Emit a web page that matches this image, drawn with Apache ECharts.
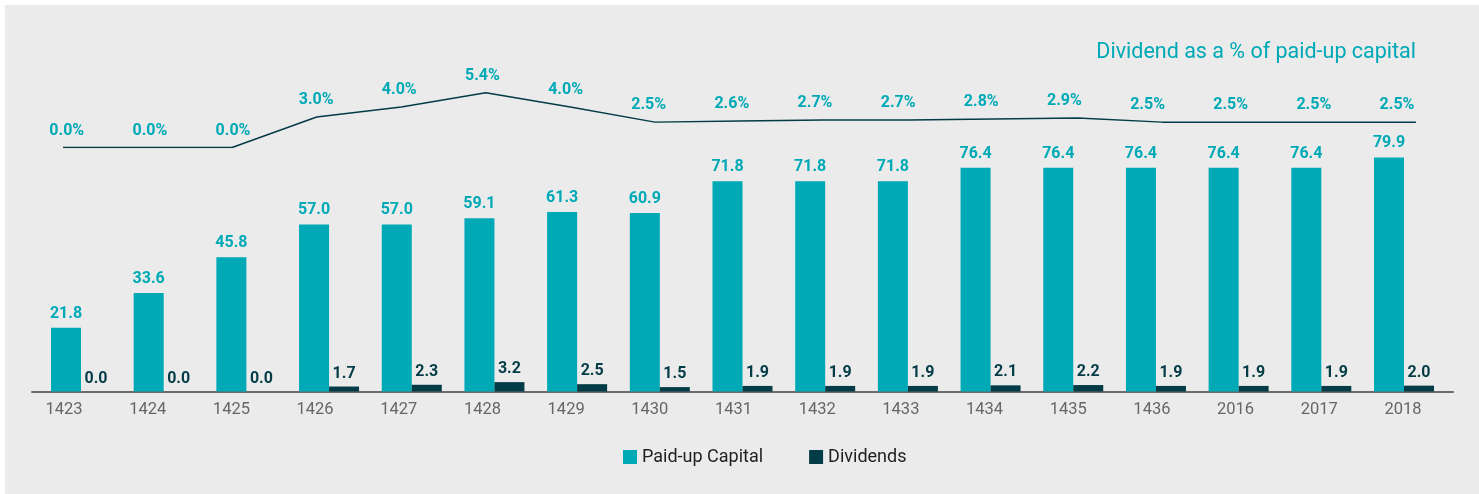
<!DOCTYPE html>
<html>
<head>
<meta charset="utf-8">
<script src="https://cdn.jsdelivr.net/npm/echarts@6/dist/echarts.min.js"></script>
<style>
  html, body { margin: 0; padding: 0; background: #ffffff; }
  #panel { position: absolute; left: 5px; top: 5px; width: 1474px; height: 489px; background: #ebebeb; }
  #chart { position: absolute; left: 0; top: 0; width: 1479px; height: 494px; }
</style>
</head>
<body>
<div id="panel"></div>
<div id="chart"></div>
<script>
// Paid-up capital and dividends by year, with dividend as a % of paid-up capital
const years = ['1423', '1424', '1425', '1426', '1427', '1428', '1429', '1430', '1431',
               '1432', '1433', '1434', '1435', '1436', '2016', '2017', '2018'];
const paidUpCapital = [21.8, 33.6, 45.8, 57.0, 57.0, 59.1, 61.3, 60.9, 71.8,
                       71.8, 71.8, 76.4, 76.4, 76.4, 76.4, 76.4, 79.9];
const dividends = [0.0, 0.0, 0.0, 1.7, 2.3, 3.2, 2.5, 1.5, 1.9,
                   1.9, 1.9, 2.1, 2.2, 1.9, 1.9, 1.9, 2.0];
const dividendPct = [0.0, 0.0, 0.0, 3.0, 4.0, 5.4, 4.0, 2.5, 2.6,
                     2.7, 2.7, 2.8, 2.9, 2.5, 2.5, 2.5, 2.5];

const TEAL = '#00a9b6';
const DARK = '#033b46';
const FONT = 'Roboto, "Noto Sans", sans-serif';

const chart = echarts.init(document.getElementById('chart'), null, { renderer: 'canvas' });

const barTop = 98.5, barBottom = 102.5;
const lineTop = 46, lineBottom = 346.5;

const hiddenY = (grid, max) => ({
  type: 'value', gridIndex: grid, min: 0, max: max, show: false
});
const catX = (grid, extra) => Object.assign({
  type: 'category', gridIndex: grid, data: years,
  axisLine: { show: false }, axisTick: { show: false }, axisLabel: { show: false },
  splitLine: { show: false }
}, extra || {});

chart.setOption({
  animation: false,
  textStyle: { fontFamily: FONT },
  title: {
    text: 'Dividend as a % of paid-up capital',
    right: 63, top: 42, padding: 0,
    textStyle: { color: TEAL, fontSize: 21.5, fontWeight: 'normal', fontFamily: FONT }
  },
  legend: {
    left: 623, top: 448, padding: 0,
    itemWidth: 14, itemHeight: 14, itemGap: 46,
    icon: 'rect',
    textStyle: { color: '#1f1f1f', fontSize: 18, fontFamily: FONT },
    data: ['Paid-up Capital', 'Dividends']
  },
  grid: [
    // bars
    { left: 39.66, right: 33.66, top: barTop, bottom: barBottom },
    // year labels
    { left: 22.2, right: 34.2, top: barTop, bottom: barBottom },
    // baseline
    { left: 32, right: 26, top: barTop, bottom: barBottom },
    // percentage line
    { left: 20.7, right: 20.8, top: lineTop, bottom: lineBottom },
    // percentage labels
    { left: 25.15, right: 40.45, top: lineTop, bottom: lineBottom }
  ],
  xAxis: [
    catX(0),
    catX(1, {
      axisLabel: { show: true, color: '#666666', fontSize: 16.5, margin: 10, fontFamily: FONT }
    }),
    catX(2, {
      axisLine: { show: true, lineStyle: { color: '#6b6b6b', width: 2 } }
    }),
    catX(3),
    catX(4)
  ],
  yAxis: [hiddenY(0, 100), hiddenY(1, 100), hiddenY(2, 100), hiddenY(3, 10), hiddenY(4, 10)],
  series: [
    {
      name: 'Paid-up Capital', type: 'bar', xAxisIndex: 0, yAxisIndex: 0,
      data: paidUpCapital, barWidth: 30, barGap: '0%',
      itemStyle: { color: TEAL },
      label: {
        show: true, position: 'top', distance: 6, color: TEAL,
        fontSize: 16, fontWeight: 'bold', fontFamily: FONT,
        formatter: p => p.value.toFixed(1)
      }
    },
    {
      name: 'Dividends', type: 'bar', xAxisIndex: 0, yAxisIndex: 0,
      data: dividends, barWidth: 30, barGap: '0%',
      itemStyle: { color: DARK },
      label: {
        show: true, position: 'top', distance: 5, color: DARK,
        fontSize: 16, fontWeight: 'bold', fontFamily: FONT,
        formatter: p => p.value.toFixed(1)
      }
    },
    {
      name: 'Dividend %', type: 'line', xAxisIndex: 3, yAxisIndex: 3,
      data: dividendPct, symbol: 'none',
      lineStyle: { color: DARK, width: 1.5 },
      z: 3
    },
    {
      // value labels for the percentage line
      name: 'Dividend % labels', type: 'line', xAxisIndex: 4, yAxisIndex: 4,
      data: dividendPct, symbol: 'circle', symbolSize: 2, showSymbol: true,
      itemStyle: { color: 'rgba(0,0,0,0)' },
      lineStyle: { color: 'rgba(0,0,0,0)', width: 0 },
      label: {
        show: true, position: 'top', distance: 8, color: TEAL,
        fontSize: 16, fontWeight: 'bold', fontFamily: FONT,
        formatter: p => p.value.toFixed(1) + '%'
      },
      z: 4
    }
  ]
});
</script>
</body>
</html>
